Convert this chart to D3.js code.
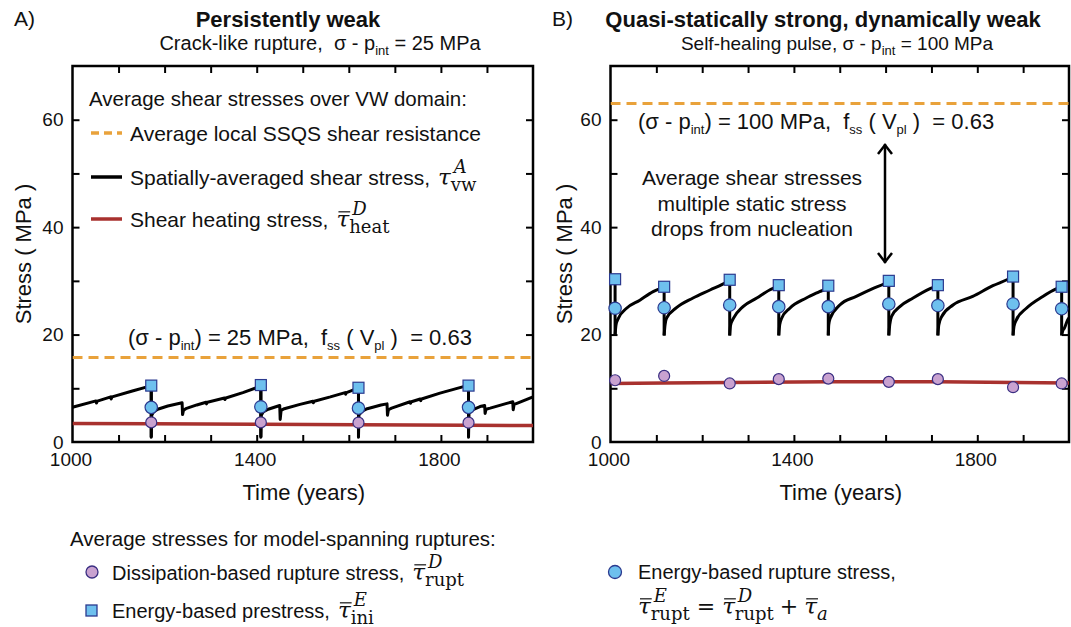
<!DOCTYPE html>
<html>
<head>
<meta charset="utf-8">
<script src="https://cdn.jsdelivr.net/npm/d3@7"></script>
<style>
  body { margin: 0; background: #fff; }
  svg { display: block; }
  text { font-family: "Liberation Sans", Arial, Helvetica, sans-serif; fill: #111; white-space: pre; }
  .title { font-size: 22px; font-weight: bold; }
  .txt { font-size: 21px; }
  .tick text { font-size: 19px; font-family: "Liberation Sans", Arial, sans-serif; fill: #111; }
  .axis-title { font-size: 22px; }
  .mi { font-family: "DejaVu Serif", "Liberation Serif", serif; font-style: italic; }
  .mr { font-family: "DejaVu Serif", "Liberation Serif", serif; }
</style>
</head>
<body>
<svg id="fig" width="1071" height="627"></svg>
<script>
// ---------- data ----------
const yearTicks = [1000, 1400, 1800];
const yearMinor = [1100, 1200, 1300, 1400, 1500, 1600, 1700, 1800, 1900];
const stressTicks = [0, 20, 40, 60];
const stressMinor = [10, 20, 30, 40, 50, 60];

// Panel A: crack-like rupture, sigma - p_int = 25 MPa
const ssqsA = 15.75;
const ruptYearsA = [1171, 1409, 1621, 1860];
const prestressA = [10.5, 10.6, 10.1, 10.5];
const energyRuptA = [6.45, 6.55, 6.3, 6.45];
const dissipRuptA = [3.65, 3.65, 3.6, 3.6];
const dropFloorA = 0.9;
const heatingA = [[1000, 3.45], [1171, 3.4], [1409, 3.3], [1621, 3.2], [1860, 3.1], [2000, 3.05]];
const shearTraceA = [
  [1000, 6.46], [1051, 7.65], [1052, 7.25], [1054, 7.6], [1083, 8.4], [1084, 8.0], [1086, 8.4],
  [1130, 9.5], [1164, 10.3], [1171, 10.5], [1171, 0.9],
  [1172, 5.0], [1176, 5.6], [1185, 6.1], [1207, 6.7], [1238, 7.3], [1239, 5.1], [1241, 5.9],
  [1246, 6.2], [1270, 6.9], [1290, 7.4], [1291, 7.1], [1293, 7.4], [1330, 8.2], [1331, 7.9],
  [1333, 8.2], [1370, 9.2], [1403, 10.2], [1409, 10.6], [1409, 0.9],
  [1410, 5.0], [1414, 5.6], [1425, 6.1], [1450, 6.8], [1451, 4.2], [1453, 5.9], [1460, 6.2],
  [1494, 7.0], [1522, 7.6], [1523, 7.3], [1525, 7.6], [1560, 8.4], [1592, 9.2], [1593, 8.9],
  [1595, 9.2], [1613, 9.8], [1621, 10.1], [1621, 0.9],
  [1622, 5.0], [1628, 5.7], [1640, 6.2], [1670, 6.9], [1683, 7.1], [1684, 5.0], [1686, 6.0],
  [1693, 6.3], [1733, 7.5], [1734, 7.2], [1736, 7.5], [1755, 8.0], [1756, 7.7], [1758, 8.0],
  [1798, 9.1], [1849, 10.3], [1860, 10.5], [1860, 0.9],
  [1861, 5.3], [1866, 5.9], [1885, 6.6], [1895, 6.8], [1896, 5.3], [1898, 6.1], [1907, 6.3],
  [1943, 7.2], [1956, 7.5], [1957, 6.0], [1959, 7.0], [1965, 7.2], [2000, 8.4]
];

// Panel B: self-healing pulse, sigma - p_int = 100 MPa
const ssqsB = 63;
const ruptYearsB = [1010, 1117, 1260, 1367, 1475, 1607, 1714, 1878, 1984];
const prestressB = [30.3, 28.9, 30.2, 29.2, 29.1, 30.0, 29.2, 30.8, 28.9];
const energyRuptB = [24.9, 25.0, 25.5, 25.2, 25.2, 25.7, 25.4, 25.7, 24.8];
const dissipRuptB = [11.5, 12.3, 10.9, 11.7, 11.8, 11.2, 11.7, 10.2, 10.9];
const dropFloorB = 19.8;
const heatingB = [[1000, 10.9], [1117, 11.0], [1260, 11.1], [1475, 11.2], [1714, 11.2], [1878, 11.1], [2000, 11.0]];
const shearSegmentsB = [
  [[1010, 19.9], [1012, 21.8], [1017, 23.0], [1035, 24.9], [1064, 26.4], [1093, 28.0], [1112, 28.7], [1117, 28.9]],
  [[1117, 19.9], [1119, 21.8], [1122, 23.0], [1144, 25.0], [1180, 26.8], [1217, 28.3], [1253, 29.8], [1260, 30.2]],
  [[1260, 19.9], [1262, 21.8], [1268, 23.0], [1289, 25.2], [1319, 26.8], [1347, 28.3], [1362, 28.9], [1367, 29.2]],
  [[1367, 19.9], [1369, 21.8], [1373, 23.0], [1391, 24.9], [1427, 26.8], [1456, 28.0], [1471, 28.6], [1475, 29.1]],
  [[1475, 19.9], [1476, 21.8], [1479, 23.0], [1500, 25.5], [1536, 27.1], [1573, 28.6], [1598, 29.5], [1607, 30.0]],
  [[1607, 19.9], [1609, 21.8], [1613, 23.4], [1631, 25.2], [1660, 26.8], [1696, 28.5], [1707, 28.9], [1714, 29.2]],
  [[1714, 19.9], [1716, 21.8], [1722, 23.3], [1747, 25.5], [1790, 27.1], [1834, 29.1], [1867, 30.3], [1878, 30.8]],
  [[1878, 19.9], [1880, 21.5], [1885, 22.7], [1907, 24.9], [1943, 27.1], [1972, 28.5], [1984, 28.9]],
  [[1984, 19.9], [1986, 20.6], [1990, 21.2], [1997, 22.7], [2000, 23.1]]
];

// ---------- styling ----------
const C = {
  orange: "#E9A23B",
  red: "#A8312E",
  blueFill: "#6EC0EE",
  blueEdge: "#2B3A8F",
  pinkFill: "#C9A2D0",
  pinkEdge: "#3A2E82"
};
const PLOT_TOP = 66, PLOT_BOTTOM = 442;
const MATH_SCRIPT = 18;

const svg = d3.select("#fig");

// Rich text: a run of plain strings, italic/roman serif math, and stacked super/subscripts.
function richText(parent, x, y, runs, anchor, baseSize) {
  const g = parent.append("g");
  let cx = 0;
  runs.forEach(r => {
    if (typeof r === "string") r = { t: r };
    if (r.gap) { cx += r.gap; return; }
    if (r.sup !== undefined || r.sub !== undefined) {
      let w = 0;
      if (r.sup) {
        const t = g.append("text").attr("x", cx + 3).attr("y", -12)
          .attr("class", "mi").style("font-size", MATH_SCRIPT + "px").text(r.sup);
        w = Math.max(w, t.node().getComputedTextLength() + 3);
      }
      if (r.sub) {
        const t = g.append("text").attr("x", cx).attr("y", 6)
          .attr("class", r.subCls || "mr").style("font-size", MATH_SCRIPT + "px").text(r.sub);
        w = Math.max(w, t.node().getComputedTextLength());
      }
      cx += w;
      return;
    }
    const size = r.size || baseSize || 21;
    const t = g.append("text").attr("x", cx).attr("y", r.dy || 0)
      .attr("class", r.cls || "")
      .style("font-size", size + "px").text(r.t);
    const w = t.node().getComputedTextLength();
    if (r.bar) {
      g.append("line").attr("x1", cx + 2).attr("x2", cx + w + 1)
        .attr("y1", -0.66 * size).attr("y2", -0.66 * size)
        .attr("stroke", "#111").attr("stroke-width", 1.2);
    }
    cx += w + (r.after || 0);
  });
  const shift = anchor === "middle" ? -cx / 2 : 0;
  g.attr("transform", `translate(${x + shift},${y})`);
  return g;
}

const tau = bar => ({ t: "τ", cls: "mi", size: 23, bar: bar, after: 0 });
const sub = s => ({ t: s, size: 13, dy: 5 });

function drawPanel(P, d) {
  const x = d3.scaleLinear().domain([1000, 2000]).range([P.x0, P.x1]);
  const y = d3.scaleLinear().domain([0, 70]).range([PLOT_BOTTOM, PLOT_TOP]);
  const g = svg.append("g");

  svg.append("clipPath").attr("id", "clip" + P.id).append("rect")
    .attr("x", P.x0).attr("y", PLOT_TOP)
    .attr("width", P.x1 - P.x0).attr("height", PLOT_BOTTOM - PLOT_TOP);

  // inward ticks on all four sides
  const ticks = (axis, tr) => g.append("g").attr("transform", tr).call(axis)
    .call(s => {
      s.select(".domain").remove();
      s.selectAll("line").attr("stroke", "#000").attr("stroke-width", 2);
    });
  ticks(d3.axisBottom(x).tickValues(yearMinor).tickSize(-7).tickFormat(""), `translate(0,${PLOT_BOTTOM})`);
  ticks(d3.axisTop(x).tickValues(yearMinor).tickSize(-7).tickFormat(""), `translate(0,${PLOT_TOP})`);
  ticks(d3.axisLeft(y).tickValues(stressMinor).tickSize(-7).tickFormat(""), `translate(${P.x0},0)`);
  ticks(d3.axisRight(y).tickValues(stressMinor).tickSize(-7).tickFormat(""), `translate(${P.x1},0)`);

  // tick labels
  const xl = g.append("g").attr("transform", `translate(0,${PLOT_BOTTOM})`)
    .call(d3.axisBottom(x).tickValues(yearTicks).tickSize(0).tickPadding(11).tickFormat(d3.format("d")));
  xl.select(".domain").remove();
  xl.selectAll("text").attr("dx", -2);
  const yl = g.append("g").attr("transform", `translate(${P.x0},0)`)
    .call(d3.axisLeft(y).tickValues(stressTicks).tickSize(0).tickPadding(9));
  yl.select(".domain").remove();

  // frame
  g.append("rect").attr("x", P.x0).attr("y", PLOT_TOP)
    .attr("width", P.x1 - P.x0).attr("height", PLOT_BOTTOM - PLOT_TOP)
    .attr("fill", "none").attr("stroke", "#000").attr("stroke-width", 2.5);

  // axis titles
  g.append("text").attr("class", "axis-title").attr("text-anchor", "middle")
    .attr("x", (P.x0 + P.x1) / 2 + 1).attr("y", 500).text("Time (years)");
  g.append("text").attr("class", "axis-title").attr("text-anchor", "middle")
    .attr("transform", `translate(${P.yTitleX},${(PLOT_TOP + PLOT_BOTTOM) / 2}) rotate(-90)`)
    .text("Stress ( MPa )");

  const plot = g.append("g").attr("clip-path", `url(#clip${P.id})`);

  // average SSQS shear resistance
  plot.append("line").attr("x1", P.x0).attr("x2", P.x1)
    .attr("y1", y(d.ssqs)).attr("y2", y(d.ssqs))
    .attr("stroke", C.orange).attr("stroke-width", 3).attr("stroke-dasharray", "10,6");

  // shear heating stress
  const line = d3.line().x(p => x(p[0])).y(p => y(p[1]));
  plot.append("path").datum(d.heating).attr("d", line)
    .attr("fill", "none").attr("stroke", C.red).attr("stroke-width", 3.5);

  // spatially averaged shear stress
  const lineSmooth = d3.line().x(p => x(p[0])).y(p => y(p[1])).curve(d3.curveMonotoneX);
  d.trace.forEach(seg => {
    plot.append("path").datum(seg).attr("d", d.smooth ? lineSmooth : line)
      .attr("fill", "none").attr("stroke", "#000").attr("stroke-width", 3)
      .attr("stroke-linejoin", "round");
  });
  // rupture drops
  plot.selectAll(".drop").data(d.rupt).join("line")
    .attr("x1", (t) => x(t)).attr("x2", (t) => x(t))
    .attr("y1", (t, i) => y(d.pre[i])).attr("y2", y(d.floor))
    .attr("stroke", "#000").attr("stroke-width", 3);

  // markers
  const mk = g.append("g");
  mk.selectAll(".pink").data(d.rupt).join("circle")
    .attr("cx", t => x(t)).attr("cy", (t, i) => y(d.dissip[i])).attr("r", 5.5)
    .attr("fill", C.pinkFill).attr("stroke", C.pinkEdge).attr("stroke-width", 1.2);
  mk.selectAll(".blue").data(d.rupt).join("circle")
    .attr("cx", t => x(t)).attr("cy", (t, i) => y(d.energy[i])).attr("r", 6.2)
    .attr("fill", C.blueFill).attr("stroke", C.blueEdge).attr("stroke-width", 1.2);
  mk.selectAll(".sq").data(d.rupt).join("rect")
    .attr("x", t => x(t) - 5.5).attr("y", (t, i) => y(d.pre[i]) - 5.5)
    .attr("width", 11).attr("height", 11)
    .attr("fill", C.blueFill).attr("stroke", C.blueEdge).attr("stroke-width", 1.2);

  return { x, y, g };
}

// ---------- panel A ----------
drawPanel({ id: "A", x0: 72.5, x1: 533, yTitleX: 31 }, {
  ssqs: ssqsA, heating: heatingA, trace: [shearTraceA], smooth: false,
  rupt: ruptYearsA, pre: prestressA, energy: energyRuptA, dissip: dissipRuptA, floor: dropFloorA
});

// ---------- panel B ----------
drawPanel({ id: "B", x0: 610.5, x1: 1069, yTitleX: 572 }, {
  ssqs: ssqsB, heating: heatingB, trace: shearSegmentsB, smooth: true,
  rupt: ruptYearsB, pre: prestressB, energy: energyRuptB, dissip: dissipRuptB, floor: dropFloorB
});

// ---------- titles ----------
svg.append("text").attr("class", "txt").attr("x", 14).attr("y", 26).text("A)");
svg.append("text").attr("class", "title").attr("text-anchor", "middle").attr("x", 288).attr("y", 27).text("Persistently weak");
richText(svg, 320, 50, ["Crack-like rupture,  σ - p", sub("int"), " = 25 MPa"], "middle", 20);

svg.append("text").attr("class", "txt").attr("x", 552).attr("y", 26).text("B)");
svg.append("text").attr("class", "title").attr("text-anchor", "middle").attr("x", 823).attr("y", 27).text("Quasi-statically strong, dynamically weak");
richText(svg, 837, 50, ["Self-healing pulse, σ - p", sub("int"), " = 100 MPa"], "middle", 19);

// ---------- panel A annotations ----------
svg.append("text").attr("class", "txt").style("font-size", "20.5px")
  .attr("x", 89).attr("y", 106).text("Average shear stresses over VW domain:");
const legA = [
  { y: 133, color: C.orange, dash: "8,5", runs: ["Average local SSQS shear resistance"] },
  { y: 177, color: "#000", dash: null, runs: ["Spatially-averaged shear stress,", { gap: 8 }, tau(false), { sup: "A", sub: "vw" }] },
  { y: 219, color: C.red, dash: null, runs: ["Shear heating stress,", { gap: 8 }, tau(true), { sup: "D", sub: "heat" }] }
];
legA.forEach(it => {
  svg.append("line").attr("x1", 91).attr("x2", 122).attr("y1", it.y).attr("y2", it.y)
    .attr("stroke", it.color).attr("stroke-width", 3.5).attr("stroke-dasharray", it.dash);
  richText(svg, 130, it.y + 8, it.runs);
});
richText(svg, 128, 345, ["(σ - p", sub("int"), ") = 25 MPa,  f", sub("ss"), " ( V", sub("pl"), " )  = 0.63"], null, 22);

// ---------- panel B annotations ----------
richText(svg, 638, 129, ["(σ - p", sub("int"), ") = 100 MPa,  f", sub("ss"), " ( V", sub("pl"), " )  = 0.63"], null, 22);
["Average shear stresses", "multiple static stress", "drops from nucleation"].forEach((s, i) => {
  svg.append("text").attr("class", "txt").attr("text-anchor", "middle")
    .attr("x", 752).attr("y", 185 + i * 25.5).text(s);
});
const arrowX = 885, arrowTop = 144, arrowBot = 263;
svg.append("line").attr("x1", arrowX).attr("x2", arrowX).attr("y1", arrowTop).attr("y2", arrowBot)
  .attr("stroke", "#000").attr("stroke-width", 2.5);
svg.append("path").attr("d", `M${arrowX - 7},${arrowTop + 10}L${arrowX},${arrowTop + 1}L${arrowX + 7},${arrowTop + 10}`)
  .attr("fill", "none").attr("stroke", "#000").attr("stroke-width", 2.5);
svg.append("path").attr("d", `M${arrowX - 7},${arrowBot - 10}L${arrowX},${arrowBot - 1}L${arrowX + 7},${arrowBot - 10}`)
  .attr("fill", "none").attr("stroke", "#000").attr("stroke-width", 2.5);

// ---------- bottom legend ----------
svg.append("text").attr("class", "txt").style("font-size", "20.5px")
  .attr("x", 70).attr("y", 546).text("Average stresses for model-spanning ruptures:");
svg.append("circle").attr("cx", 92).attr("cy", 572).attr("r", 6)
  .attr("fill", C.pinkFill).attr("stroke", C.pinkEdge).attr("stroke-width", 1.3);
richText(svg, 112, 580, ["Dissipation-based rupture stress,", { gap: 8 }, tau(true), { sup: "D", sub: "rupt" }], null, 20);
svg.append("rect").attr("x", 86).attr("y", 605).attr("width", 11).attr("height", 11)
  .attr("fill", C.blueFill).attr("stroke", C.blueEdge).attr("stroke-width", 1.3);
richText(svg, 112, 618, ["Energy-based prestress,", { gap: 8 }, tau(true), { sup: "E", sub: "ini" }], null, 20);

svg.append("circle").attr("cx", 615).attr("cy", 572).attr("r", 6.5)
  .attr("fill", C.blueFill).attr("stroke", C.blueEdge).attr("stroke-width", 1.3);
richText(svg, 638, 579, ["Energy-based rupture stress,"], null, 20);
richText(svg, 638, 614, [
  tau(true), { sup: "E", sub: "rupt" }, { gap: 7 },
  { t: "=", cls: "mr", size: 22 }, { gap: 7 },
  tau(true), { sup: "D", sub: "rupt" }, { gap: 6 },
  { t: "+", cls: "mr", size: 22 }, { gap: 6 },
  tau(true), { sub: "a", subCls: "mi" }
]);
</script>
</body>
</html>
